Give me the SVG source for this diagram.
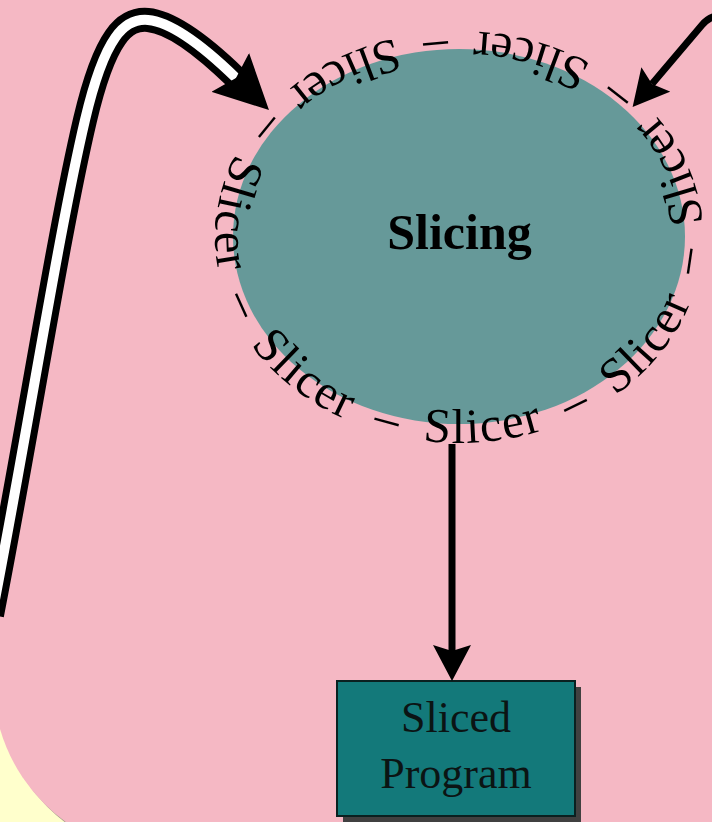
<svg xmlns="http://www.w3.org/2000/svg" width="712" height="822" viewBox="0 0 712 822">
<style>
.ring{font-family:"Liberation Serif","Times New Roman",serif;font-size:49px;letter-spacing:1.5px;fill:#000}
.title{font-family:"Liberation Serif","Times New Roman",serif;font-weight:bold;font-size:50px;fill:#000}
.label{font-family:"Liberation Serif","Times New Roman",serif;font-size:44px;fill:#0b1414}
.line{fill:none;stroke:#000;stroke-width:7}
</style>
<defs>
<path id="ringPath" d="M 459 443 A 244 206 0 0 0 459 31 A 244 206 0 0 0 459 443 A 244 206 0 0 0 459 31 A 244 206 0 0 0 459 443"/>
<marker id="head" markerUnits="userSpaceOnUse" viewBox="0 0 36 38" refX="6" refY="19" markerWidth="36" markerHeight="38" orient="auto"><path d="M0 0 L36 19 L0 38 L6 19 Z" fill="#000"/></marker>
<marker id="bighead" markerUnits="userSpaceOnUse" viewBox="0 0 54 54" refX="8" refY="27" markerWidth="54" markerHeight="54" orient="auto"><path d="M0 0 L54 27 L0 54 L8 27 Z" fill="#000"/></marker>
</defs>
<g id="background">
<rect width="712" height="822" fill="#ffffcc"/>
<rect x="-4" y="-197" width="800" height="1055" rx="175" fill="#555" opacity="0.6"/>
<rect x="-7" y="-200" width="800" height="1055" rx="175" fill="#f5b8c4"/>
</g>
<g id="slicing">
<ellipse cx="459" cy="236.5" rx="226" ry="187.5" fill="#669999"/>
<text class="title" x="459.5" y="249" text-anchor="middle">Slicing</text>
<g class="ring">
<text><textPath href="#ringPath" startOffset="1441" text-anchor="middle">Slicer</textPath></text>
<text><textPath href="#ringPath" startOffset="126.2" text-anchor="middle">–</textPath></text>
<text><textPath href="#ringPath" startOffset="227.3" text-anchor="middle">Slicer</textPath></text>
<text><textPath href="#ringPath" startOffset="328.5" text-anchor="middle">–</textPath></text>
<text><textPath href="#ringPath" startOffset="429.6" text-anchor="middle">Slicer</textPath></text>
<text><textPath href="#ringPath" startOffset="530.8" text-anchor="middle">–</textPath></text>
<text><textPath href="#ringPath" startOffset="631.9" text-anchor="middle">Slicer</textPath></text>
<text><textPath href="#ringPath" startOffset="733.1" text-anchor="middle">–</textPath></text>
<text><textPath href="#ringPath" startOffset="834.2" text-anchor="middle">Slicer</textPath></text>
<text><textPath href="#ringPath" startOffset="935.4" text-anchor="middle">–</textPath></text>
<text><textPath href="#ringPath" startOffset="1036.5" text-anchor="middle">Slicer</textPath></text>
<text><textPath href="#ringPath" startOffset="1137.7" text-anchor="middle">–</textPath></text>
<text><textPath href="#ringPath" startOffset="1238.8" text-anchor="middle">Slicer</textPath></text>
<text><textPath href="#ringPath" startOffset="1340" text-anchor="middle">–</textPath></text>
</g>
</g>
<g id="sliced-program">
<rect x="343" y="687" width="238" height="135" fill="#404040"/>
<rect x="337" y="681" width="238" height="135" fill="#13797a" stroke="#0a2020" stroke-width="2"/>
<text class="label" x="456" y="731.5" text-anchor="middle">Sliced</text>
<text class="label" x="456" y="788" text-anchor="middle">Program</text>
</g>
<g id="connectors">
<path d="M -8 615 C 28 430, 58 235, 85 120 C 105 35, 125 18, 148 20 C 170 22, 200 43, 236 78" fill="none" stroke="#000" stroke-width="24"/>
<path d="M -8 615 C 28 430, 58 235, 85 120 C 105 35, 125 18, 148 20 C 170 22, 200 43, 236 78" fill="none" stroke="#fff" stroke-width="10" marker-end="url(#bighead)"/>
<path class="line" d="M 716 16 Q 708 18 702 25 L 652 84" marker-end="url(#head)"/>
<path class="line" d="M 452 444 L 452 651" marker-end="url(#head)"/>
</g>
</svg>
